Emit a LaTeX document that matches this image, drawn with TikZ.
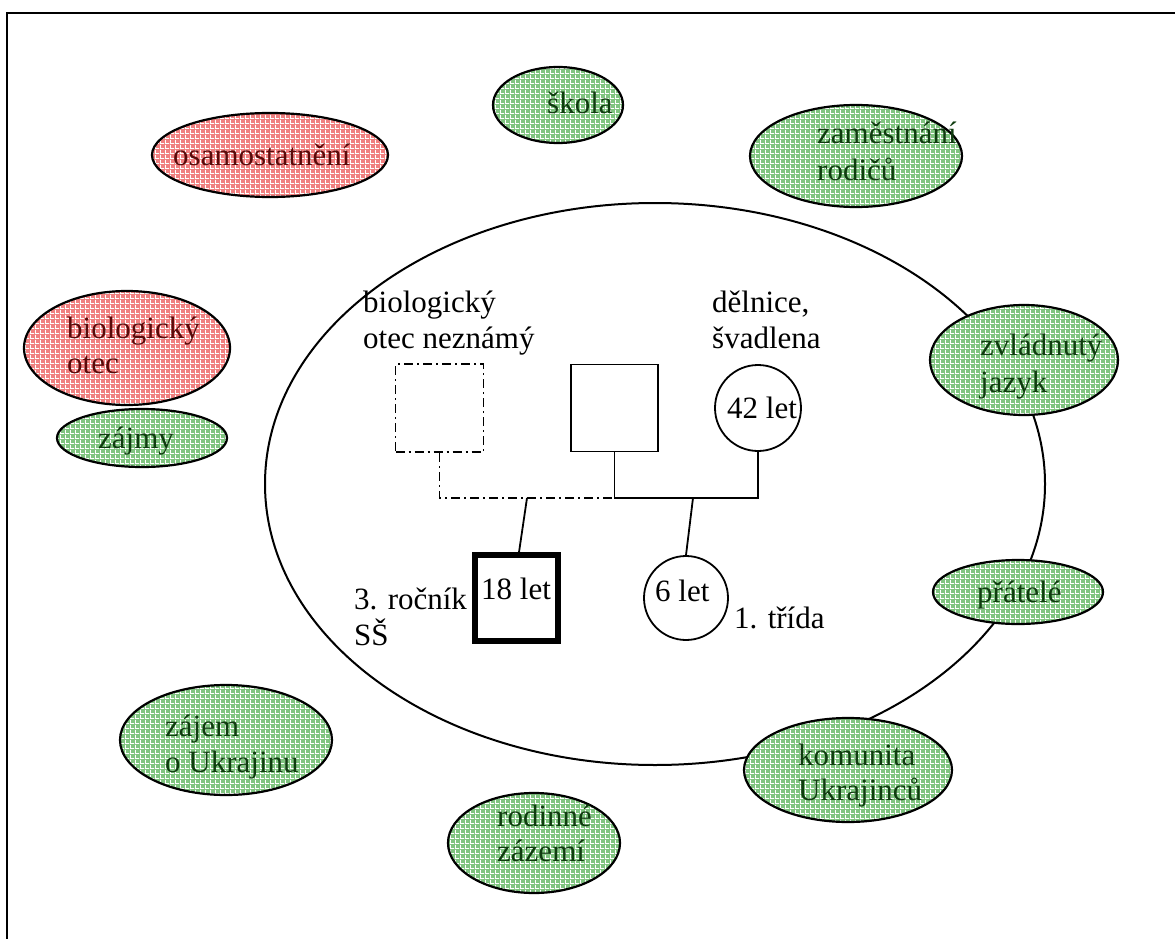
\documentclass[tikz,border=0pt]{standalone}
\usepackage{fontspec}
\setmainfont{Liberation Serif}
\usetikzlibrary{shapes.geometric,patterns}
% white lattice laid over the bubble fill
\pgfdeclarepatternformonly{lattice}{\pgfpointorigin}{\pgfqpoint{5pt}{5pt}}{\pgfqpoint{5pt}{5pt}}{%
  \pgfsetlinewidth{1.1pt}%
  \pgfpathmoveto{\pgfqpoint{0pt}{0.55pt}}\pgfpathlineto{\pgfqpoint{5pt}{0.55pt}}%
  \pgfpathmoveto{\pgfqpoint{0.55pt}{0pt}}\pgfpathlineto{\pgfqpoint{0.55pt}{5pt}}%
  \pgfusepath{stroke}}
\definecolor{gbase}{RGB}{128,196,128}
\definecolor{gtext}{RGB}{15,60,15}
\definecolor{rbase}{RGB}{240,128,128}
\definecolor{rtext}{RGB}{90,10,10}
\begin{document}
\begin{tikzpicture}[x=1pt,y=-1pt,
  every node/.style={font=\fontsize{31}{36}\selectfont},
  bubble/.style={ellipse, draw, line width=2.2pt, inner sep=0pt,
    pattern=lattice, pattern color=white},
  good/.style={bubble, preaction={fill=gbase}},
  bad/.style={bubble, preaction={fill=rbase}},
  gtxt/.style={anchor=base west, inner sep=0pt, align=left, text=gtext},
  rtxt/.style={anchor=base west, inner sep=0pt, align=left, text=rtext},
  lbl/.style={anchor=base west, inner sep=0pt, align=left},
  person/.style={draw, line width=1.8pt, inner sep=0pt},
  link/.style={line width=1.8pt},
  dashdot/.style={line width=1.8pt, dash pattern=on 9pt off 4pt on 2pt off 4pt}]
\useasboundingbox (0,0) rectangle (1175,939);
% outer frame, open on the right and at the bottom
\draw[line width=2.2pt] (1180,13) -- (7,13) -- (7,945);

% household
\node[draw, ellipse, line width=2pt, minimum width=780, minimum height=562] (home) at (655,484) {};

% outer network
\node[bad, minimum width=236, minimum height=84] (osam) at (270,155) {};
\node[rtxt] (osamt) at (173,165) {osamostatnění};
\node[good, minimum width=130, minimum height=76] (skola) at (558,105) {};
\node[gtxt] (skolat) at (547,114) {škola};
\node[good, minimum width=212, minimum height=102] (zam) at (856,156) {};
\node[gtxt] (zamt1) at (817,143) {zaměstnání};
\node[gtxt] (zamt2) at (817,180) {rodičů};
\node[bad, minimum width=206, minimum height=114] (bio) at (127,348) {};
\node[rtxt] (biot1) at (67,338) {biologický};
\node[rtxt] (biot2) at (67,373) {otec};
\node[good, minimum width=188, minimum height=110] (jaz) at (1024,360) {};
\node[gtxt] (jazt1) at (980,355) {zvládnutý};
\node[gtxt] (jazt2) at (980,392) {jazyk};
\node[good, minimum width=170, minimum height=58] (zaj) at (142,438) {};
\node[gtxt] (zajt) at (98,448) {zájmy};
\node[good, minimum width=170, minimum height=64] (prat) at (1018,592) {};
\node[gtxt] (pratt) at (977,602) {přátelé};
\node[good, minimum width=212, minimum height=110] (ukr) at (226,740) {};
\node[gtxt] (ukrt1) at (165,736) {zájem};
\node[gtxt] (ukrt2) at (165,772) {o Ukrajinu};
\node[good, minimum width=208, minimum height=104] (kom) at (848,770) {};
\node[gtxt] (komt1) at (798,765) {komunita};
\node[gtxt] (komt2) at (798,800) {Ukrajinců};
\node[good, minimum width=172, minimum height=100] (rod) at (534,843) {};
\node[gtxt] (rodt1) at (497,826) {rodinné};
\node[gtxt] (rodt2) at (497,861) {zázemí};

% genogram
\node[draw, line width=1.8pt, dash pattern=on 9pt off 4pt on 2pt off 4pt,
  minimum size=88, inner sep=0pt] (fbio) at (439.5,408) {};
\node[person, minimum size=87] (fst) at (614.5,408) {};
\node[person, circle, minimum size=86] (mum) at (758,408) {};
\node[lbl] (mumt) at (727,418) {42 let};
\node[draw, line width=5.5pt, inner sep=0pt, minimum width=83, minimum height=86] (son) at (516.5,598) {};
\node[lbl] (sont) at (481,599) {18 let};
\node[person, circle, minimum size=84] (dau) at (686,598) {};
\node[lbl] (daut) at (655,601) {6 let};

\coordinate (j1) at (439.5,498);
\coordinate (j2) at (614.5,498);
\coordinate (j3) at (758,498);
\coordinate (c1) at (527,498);
\coordinate (c2) at (693,498);
\draw[dashdot] (fbio.south) -- (j1) -- (j2);
\draw[link] (fst.south) -- (j2) -- (j3) -- (mum.south);
\draw[link] (c1) -- (son.north -| 519,0);
\draw[link] (c2) -- (dau.north);

% annotations (anchored on the baseline of the last line)
\node[lbl] (fbiot) at (363,348) {biologický\\otec neznámý};
\node[lbl] (mumj) at (712,348) {dělnice,\\švadlena};
\node[lbl] (sonj) at (354,645) {3. ročník\\SŠ};
\node[lbl] (dauj) at (734,628) {1. třída};
\end{tikzpicture}
\end{document}
